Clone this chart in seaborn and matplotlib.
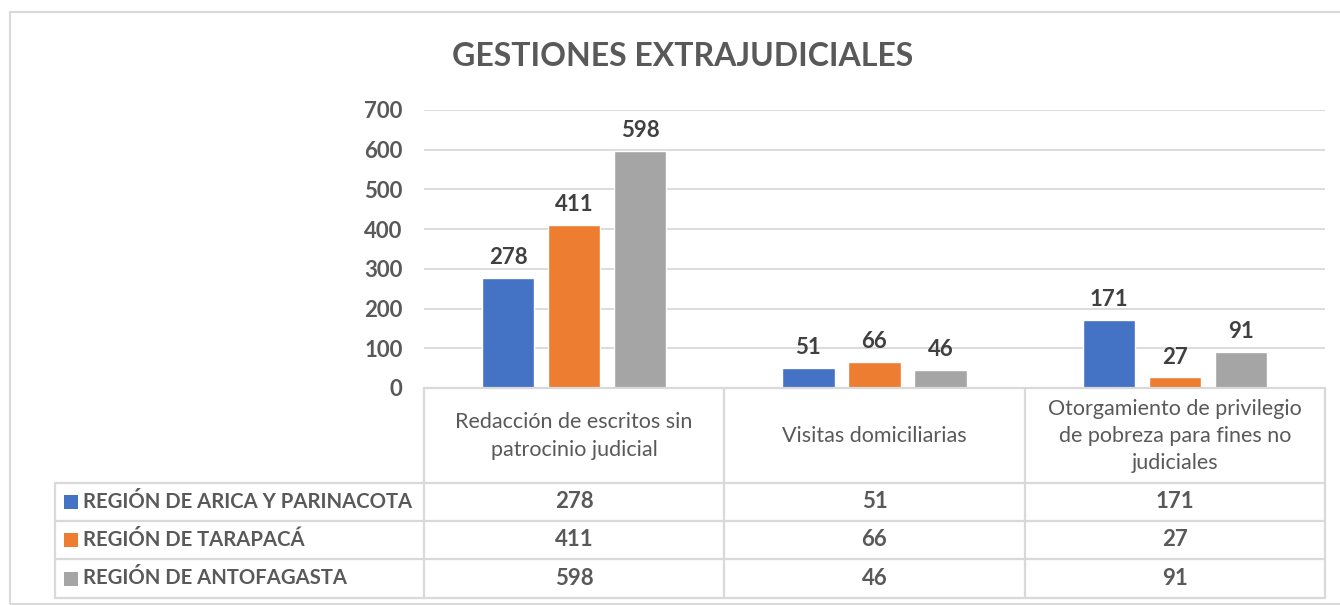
import numpy as np
import pandas as pd
import matplotlib
matplotlib.use("Agg")
import matplotlib.pyplot as plt
import matplotlib.transforms as mtransforms
from matplotlib.patches import Rectangle
from matplotlib.lines import Line2D
import seaborn as sns

# ---------------- datos ----------------
categorias = [
    "Redacción de escritos sin\npatrocinio judicial",
    "Visitas domiciliarias",
    "Otorgamiento de privilegio\nde pobreza para fines no\njudiciales",
]
regiones = [
    "REGIÓN DE ARICA Y PARINACOTA",
    "REGIÓN DE TARAPACÁ",
    "REGIÓN DE ANTOFAGASTA",
]
arica = [278, 51, 171]
tarapaca = [411, 66, 27]
antofagasta = [598, 46, 91]
colores = ["#4472C4", "#ED7D31", "#A5A5A5"]
titulo = "GESTIONES EXTRAJUDICIALES"
yticks = [0, 100, 200, 300, 400, 500, 600, 700]

valores = [arica, tarapaca, antofagasta]
df = pd.DataFrame({
    "categoria": np.tile(categorias, len(regiones)),
    "region": np.repeat(regiones, len(categorias)),
    "valor": np.concatenate(valores),
})

sns.set_style("white")
plt.rcParams["font.family"] = ["Lato", "DejaVu Sans"]

W, H = 1340, 605
TXT = "#595959"
GRID = "#D9D9D9"


def fx(x):
    return x / W


def fy(y):
    return 1 - y / H


fig = plt.figure(figsize=(W / 100, H / 100), dpi=100)
ax = fig.add_axes([fx(424), fy(388), (1325 - 424) / W, (388 - 110) / H])

sns.barplot(data=df, x="categoria", y="valor", hue="region",
            hue_order=regiones, palette=colores, order=categorias,
            width=0.66, gap=0.21, saturation=1, legend=False, ax=ax)

for cont in ax.containers:
    ax.bar_label(cont, padding=7, fontsize=16, fontweight="bold", color="#404040")

ax.set_xlim(-0.5, 2.5)
ax.set_ylim(0, 700)
ax.set_yticks(yticks)
ax.set_yticklabels([str(t) for t in yticks], fontsize=16, fontweight="bold", color=TXT)
ax.tick_params(axis="y", length=0, pad=15.5)
ax.set_xticks([])
ax.set_xlabel("")
ax.set_ylabel("")
ax.grid(True, axis="y", color=GRID, linewidth=1.3)
ax.set_axisbelow(True)
for s in ax.spines.values():
    s.set_visible(False)

# título
fig.text(fx(683), fy(57), titulo, ha="center", va="center",
         fontsize=23, fontweight="bold", color=TXT)

# borde exterior del gráfico
fig.add_artist(Rectangle((fx(10), fy(604)), 1.2, fy(12) - fy(604),
                         transform=fig.transFigure, fill=False,
                         edgecolor=GRID, linewidth=1.5))

# ---------------- tabla de datos ----------------
trans = mtransforms.blended_transform_factory(ax.transData, fig.transFigure)
bordes_x = [-0.5, 0.5, 1.5, 2.5]
fila_y = [388, 483, 521, 559, 598]


def linea(xs, ys, tr):
    fig.add_artist(Line2D(xs, ys, transform=tr, color=GRID, linewidth=1.6))


# horizontales
linea([-0.5, 2.5], [fy(388), fy(388)], trans)
for y in fila_y[1:]:
    linea([fx(55), fx(424)], [fy(y), fy(y)], fig.transFigure)
    linea([-0.5, 2.5], [fy(y), fy(y)], trans)
# verticales
for bx in bordes_x:
    linea([bx, bx], [fy(388), fy(598)], trans)
linea([fx(55), fx(55)], [fy(483), fy(598)], fig.transFigure)

# encabezados
for i, cat in enumerate(categorias):
    fig.text(i, fy(436), cat, transform=trans, ha="center", va="center",
             fontsize=15.5, color=TXT, linespacing=1.45)

# filas
for r, (reg, vals, col) in enumerate(zip(regiones, valores, colores)):
    yc = (fila_y[r + 1] + fila_y[r + 2]) / 2
    fig.add_artist(Rectangle((fx(64), fy(yc + 7)), 14 / W, 14 / H,
                             transform=fig.transFigure, facecolor=col,
                             edgecolor="none"))
    fig.text(fx(83), fy(yc), reg, ha="left", va="center",
             fontsize=14.6, fontweight="bold", color=TXT)
    for i, v in enumerate(vals):
        fig.text(i, fy(yc), str(v), transform=trans, ha="center", va="center",
                 fontsize=16, fontweight="bold", color=TXT)

fig.savefig("out.png", dpi=100)
